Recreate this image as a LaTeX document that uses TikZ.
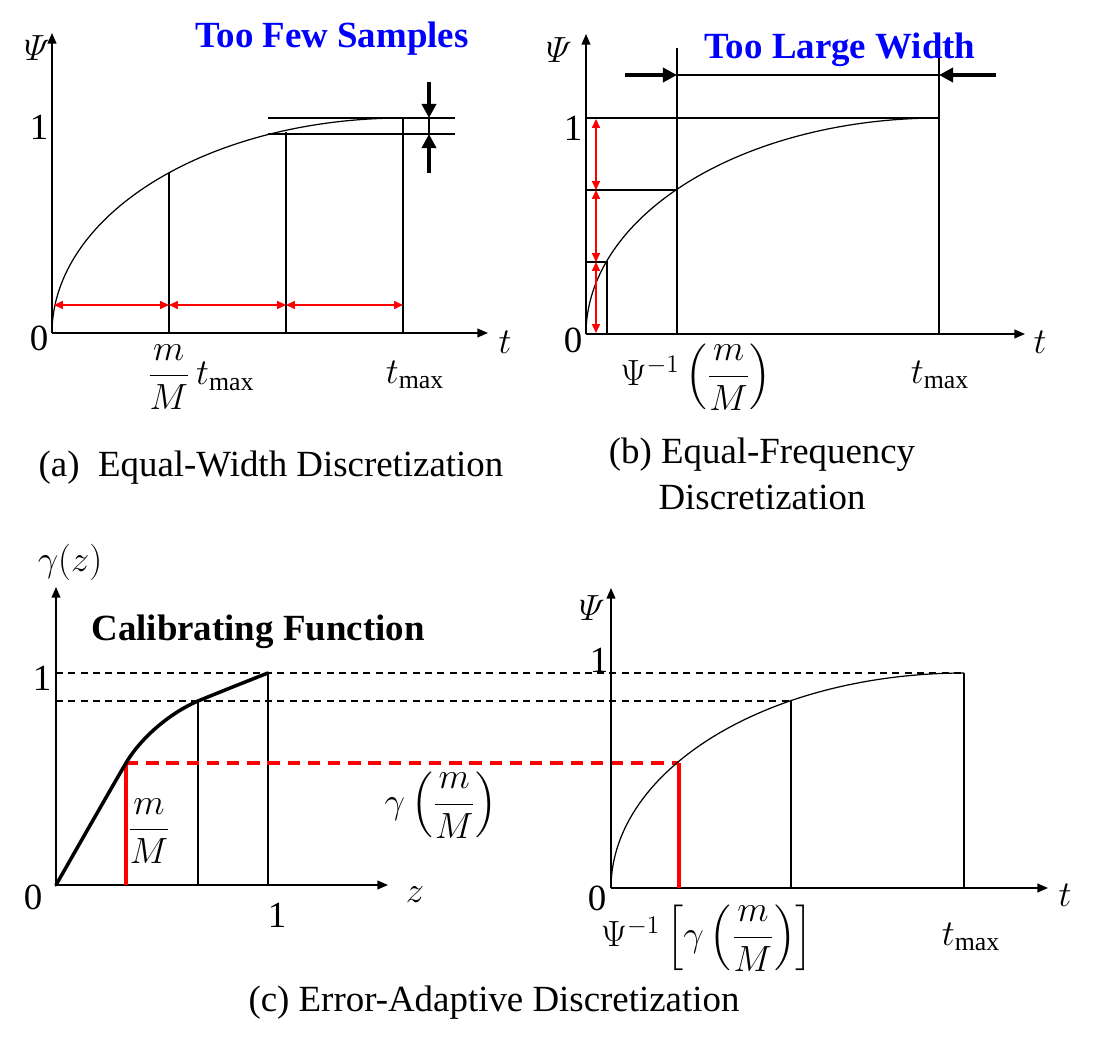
\documentclass[tikz,border=0pt]{standalone}
\usepackage{fontspec}
\setmainfont{Liberation Serif}
\usepackage{amsmath}
\usetikzlibrary{arrows.meta}
\begin{document}
\begin{tikzpicture}[x=0.02cm,y=-0.02cm,
  axis/.style={line width=0.75pt,-{Triangle[length=6pt,width=5pt]}},
  ln/.style={line width=0.7pt},
  curve/.style={line width=0.7pt},
  redarr/.style={red,line width=0.7pt,{Triangle[length=5pt,width=4.5pt]}-{Triangle[length=5pt,width=4.5pt]}},
  bigarr/.style={line width=2pt,-{Triangle[length=8pt,width=8pt]}},
  bigarrb/.style={line width=2.4pt,-{Triangle[length=8pt,width=8pt]}},
  lbl/.style={font=\fontsize{21}{25}\selectfont,inner sep=0pt},
  ttl/.style={font=\fontsize{21}{25}\selectfont\bfseries,text=blue,inner sep=0pt},
  btl/.style={font=\fontsize{21}{25}\selectfont\bfseries,inner sep=0pt},
  blackdash/.style={line width=0.6pt,dash pattern=on 4pt off 3pt},
  reddash/.style={red,line width=2.2pt,dash pattern=on 7pt off 4.5pt},
  redthick/.style={red,line width=2.2pt}]
\useasboundingbox (0,0) rectangle (1093,1047);

% ================= panel (a) =================
\coordinate (aO) at (52,333);
\coordinate (aY) at (52,33);
\coordinate (aX) at (488,333);
\draw[axis] (aO) -- (aY);
\draw[axis] (aO) -- (aX);
\begin{scope}[shift={(52,333)},xscale=351,yscale=-215]
\draw[curve] plot[domain=180:90,samples=90,variable=\t] ({1+cos(\t)},{sin(\t)});
\end{scope}
\coordinate (a1t) at (169,173); \coordinate (a1b) at (169,333);
\coordinate (a2t) at (286,132); \coordinate (a2b) at (286,333);
\coordinate (a3t) at (403,118); \coordinate (a3b) at (403,333);
\draw[ln] (a1t) -- (a1b);
\draw[ln] (a2t) -- (a2b);
\draw[ln] (a3t) -- (a3b);
\coordinate (ah1l) at (268,118); \coordinate (ah1r) at (455,118);
\coordinate (ah2l) at (268,134); \coordinate (ah2r) at (455,134);
\draw[ln] (ah1l) -- (ah1r);
\draw[ln] (ah2l) -- (ah2r);
\coordinate (ad1) at (429,82); \coordinate (ad2) at (429,118);
\coordinate (au1) at (429,173); \coordinate (au2) at (429,134);
\draw[bigarr] (ad1) -- (ad2);
\draw[bigarr] (au1) -- (au2);
\draw[ln] (ad2) -- (au2);
\coordinate (ar0) at (54,305); \coordinate (ar1) at (169,305);
\coordinate (ar2) at (286,305); \coordinate (ar3) at (403,305);
\draw[redarr] (ar0) -- (ar1);
\draw[redarr] (ar1) -- (ar2);
\draw[redarr] (ar2) -- (ar3);
\node[lbl] (aPsi) at (37,48) {$\varPsi$};
\node[lbl] (aone) at (39,127) {1};
\node[lbl] (azero) at (39,338) {0};
\node[lbl] (at) at (505,342) {$t$};
\node[lbl] (afrac) at (201,377) {$\dfrac{m}{M}\,t_{\max}$};
\node[lbl] (atmax) at (415,375) {$t_{\max}$};
\node[ttl] (atitle) at (332,39) {Too Few Samples};
\node[lbl] (acap) at (271,468) {(a)\ \ Equal-Width Discretization};

% ================= panel (b) =================
\coordinate (bO) at (586,334);
\coordinate (bY) at (586,34);
\coordinate (bX) at (1025,334);
\draw[axis] (bO) -- (bY);
\draw[axis] (bO) -- (bX);
\begin{scope}[shift={(586,334)},xscale=353,yscale=-216]
\draw[curve] plot[domain=180:90,samples=90,variable=\t] ({1+cos(\t)},{sin(\t)});
\end{scope}
\coordinate (bt1) at (586,118); \coordinate (bt2) at (939,118);
\draw[ln] (bt1) -- (bt2);
\coordinate (bv1t) at (677,48); \coordinate (bv1b) at (677,334);
\coordinate (bv2t) at (939,48); \coordinate (bv2b) at (939,334);
\draw[ln] (bv1t) -- (bv1b);
\draw[ln] (bv2t) -- (bv2b);
\coordinate (bw1) at (677,75); \coordinate (bw2) at (939,75);
\draw[ln] (bw1) -- (bw2);
\coordinate (bla) at (625,75); \coordinate (bra) at (996,75);
\draw[bigarrb] (bla) -- (bw1);
\draw[bigarrb] (bra) -- (bw2);
\coordinate (bm1) at (586,190); \coordinate (bm2) at (677,190);
\draw[ln] (bm1) -- (bm2);
\coordinate (bl1) at (586,262); \coordinate (bl2) at (607,262); \coordinate (bl3) at (607,334);
\draw[ln] (bl1) -- (bl2) -- (bl3);
\coordinate (br0) at (596,119); \coordinate (br1) at (596,190);
\coordinate (br2) at (596,262); \coordinate (br3) at (596,333);
\draw[redarr] (br0) -- (br1);
\draw[redarr] (br1) -- (br2);
\draw[redarr] (br2) -- (br3);
\node[lbl] (bPsi) at (559,50) {$\varPsi$};
\node[lbl] (bone) at (573,128) {1};
\node[lbl] (bzero) at (573,340) {0};
\node[lbl] (bt) at (1040,342) {$t$};
\node[lbl] (bfrac) at (696,377) {$\Psi^{-1}\left(\dfrac{m}{M}\right)$};
\node[lbl] (btmax) at (940,375) {$t_{\max}$};
\node[ttl] (btitle) at (840,50) {Too Large Width};
\node[lbl] (bcap1) at (762,455) {(b) Equal-Frequency};
\node[lbl] (bcap2) at (762,497) {Discretization};

% ================= panel (c) left =================
\coordinate (cO) at (56,885);
\coordinate (cY) at (56,587);
\coordinate (cX) at (388,885);
\draw[axis] (cO) -- (cY);
\draw[axis] (cO) -- (cX);
\coordinate (cd1l) at (56,673); \coordinate (cd1r) at (964,673);
\coordinate (cd2l) at (56,701); \coordinate (cd2r) at (791,701);
\draw[blackdash] (cd1l) -- (cd1r);
\draw[blackdash] (cd2l) -- (cd2r);
\coordinate (cv1t) at (268,673); \coordinate (cv1b) at (268,885);
\coordinate (cv2t) at (198,701); \coordinate (cv2b) at (198,885);
\draw[ln] (cv1t) -- (cv1b);
\draw[ln] (cv2t) -- (cv2b);
\coordinate (crt) at (126,763); \coordinate (crb) at (126,885);
\coordinate (drt) at (679,763); \coordinate (drb) at (679,888);
\draw[reddash] (crt) -- (drt);
\draw[redthick] (crt) -- (crb);
\draw[line width=2pt,line cap=round] (cO) .. controls (80,843) and (105,799) .. (crt)
  .. controls (142,736) and (172,712) .. (cv2t)
  .. controls (225,690) and (245,682) .. (cv1t);
\node[lbl] (cgz) at (70,562) {$\gamma(z)$};
\node[btl] (ctitle) at (258,632) {Calibrating Function};
\node[lbl] (cone) at (42,678) {1};
\node[lbl] (czero) at (33,897) {0};
\node[lbl] (cz) at (415,895) {$z$};
\node[lbl] (conex) at (277,915) {1};
\node[lbl] (cfrac) at (149,831) {$\dfrac{m}{M}$};
\node[lbl] (cgfrac) at (441,805) {$\gamma\left(\dfrac{m}{M}\right)$};

% ================= panel (c) right =================
\coordinate (dO) at (611,888);
\coordinate (dY) at (611,588);
\coordinate (dX) at (1048,888);
\draw[axis] (dO) -- (dY);
\draw[axis] (dO) -- (dX);
\begin{scope}[shift={(611,888)},xscale=353,yscale=-215]
\draw[curve] plot[domain=180:90,samples=90,variable=\t] ({1+cos(\t)},{sin(\t)});
\end{scope}
\coordinate (dv1t) at (791,701); \coordinate (dv1b) at (791,888);
\coordinate (dv2t) at (964,673); \coordinate (dv2b) at (964,888);
\draw[ln] (dv1t) -- (dv1b);
\draw[ln] (dv2t) -- (dv2b);
\draw[redthick] (drt) -- (drb);
\node[lbl] (dPsi) at (592,608) {$\varPsi$};
\node[lbl] (done) at (599,660) {1};
\node[lbl] (dzero) at (597,898) {0};
\node[lbl] (dt) at (1065,895) {$t$};
\node[lbl] (dfrac) at (707,938) {$\Psi^{-1}\left[\gamma\left(\dfrac{m}{M}\right)\right]$};
\node[lbl] (dtmax) at (971,937) {$t_{\max}$};
\node[lbl] (ccap) at (494,1003) {(c) Error-Adaptive Discretization};
\end{tikzpicture}
\end{document}
